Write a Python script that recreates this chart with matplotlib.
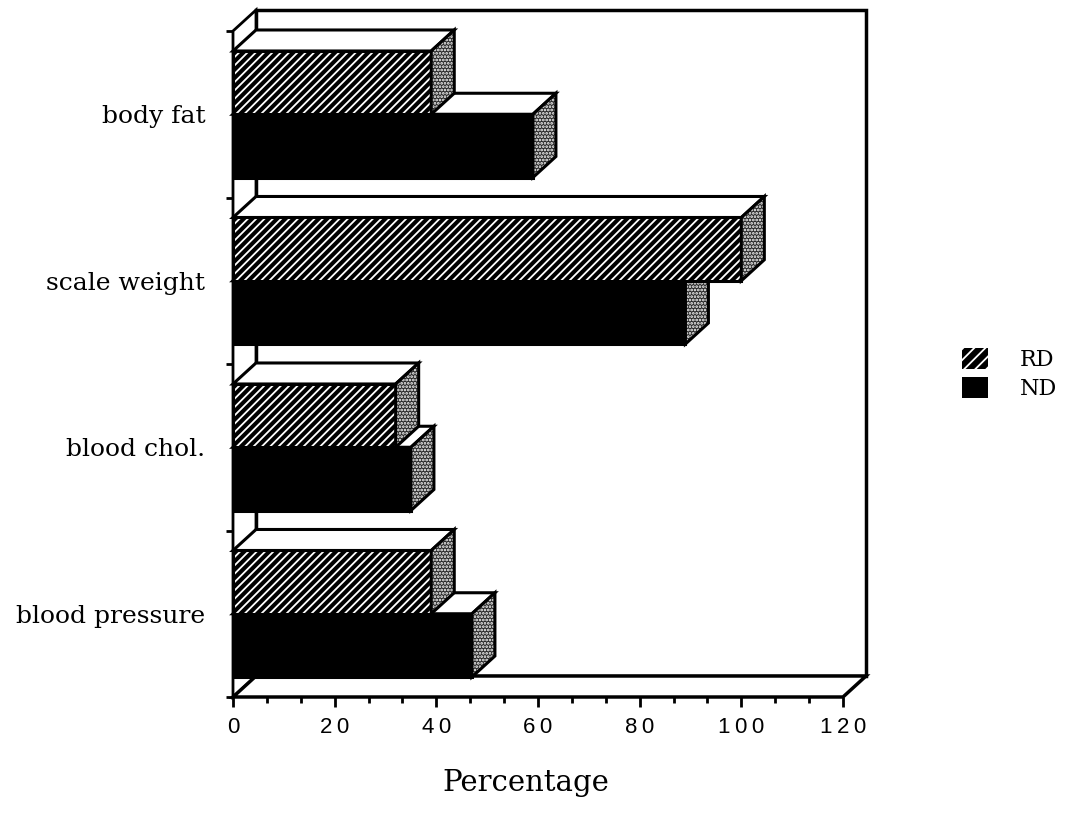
import numpy as np
import matplotlib.pyplot as plt
from matplotlib.patches import Polygon, Patch
from matplotlib.ticker import AutoMinorLocator

plt.rcParams['hatch.linewidth'] = 1.3

categories = ['body fat', 'scale weight', 'blood chol.', 'blood pressure']
rd_values = [39, 100, 32, 39]
nd_values = [59, 89, 35, 47]
x_ticks = [0, 20, 40, 60, 80, 100, 120]
series_labels = ['RD', 'ND']

SERIF = 'DejaVu Serif'
DEPTH = np.array([23.0, 21.0])   # back-plane offset in pixels (right, up)
BAR_H = 0.38
EDGE = 2.2

fig = plt.figure(figsize=(10.68, 8.24), dpi=100)
ax = fig.add_axes([233 / 1068, 127 / 824, 610 / 1068, 666 / 824])
n = len(categories)
ax.set_xlim(0, 120)
ax.set_ylim(n - 0.5, -0.5)
for s in ax.spines.values():
    s.set_visible(False)
ax.patch.set_alpha(0)


def shift(points):
    """Push data-space points back onto the rear plane."""
    disp = ax.transData.transform(np.asarray(points, dtype=float)) + DEPTH
    return ax.transData.inverted().transform(disp)


def face(points, z, **kw):
    ax.add_patch(Polygon(points, closed=True, zorder=z, clip_on=False,
                         joinstyle='miter', **kw))


# walls and floor
y0, y1 = -0.5, n - 0.5
front_back = [(0, y0), (120, y0), (120, y1), (0, y1)]
face(shift(front_back), 1, facecolor='white', edgecolor='black', lw=2.5)
left = [(0, y0), (0, y1)]
face(np.vstack([left, shift(left[::-1])]), 1.5, facecolor='white',
     edgecolor='black', lw=2.0)
floor = [(0, y1), (120, y1)]
face(np.vstack([floor, shift(floor[::-1])]), 1.5, facecolor='white',
     edgecolor='black', lw=2.5)


def draw_box(ypos, value, z, hatched):
    top_y, bot_y = ypos - BAR_H / 2, ypos + BAR_H / 2
    if hatched:
        ax.barh(ypos, value, height=BAR_H, color='black', edgecolor='white',
                hatch='////', lw=0, zorder=z)
    else:
        ax.barh(ypos, value, height=BAR_H, color='black', lw=0, zorder=z)
    ax.barh(ypos, value, height=BAR_H, fill=False, edgecolor='black',
            lw=EDGE, zorder=z)
    top_edge = [(0, top_y), (value, top_y)]
    face(np.vstack([top_edge, shift(top_edge[::-1])]), z,
         facecolor='white', edgecolor='black', lw=EDGE)
    side_edge = [(value, bot_y), (value, top_y)]
    face(np.vstack([side_edge, shift(side_edge[::-1])]), z,
         facecolor='#2a2a2a', edgecolor='white', hatch='.....', lw=0)
    face(np.vstack([side_edge, shift(side_edge[::-1])]), z,
         fill=False, edgecolor='black', lw=EDGE)


ypos = np.arange(n)
for i in range(n):
    draw_box(ypos[i] + BAR_H / 2, nd_values[i], 3, False)
    draw_box(ypos[i] - BAR_H / 2, rd_values[i], 4, True)

# x axis ticks along the front edge of the floor
ax.set_xticks(x_ticks)
ax.set_xticklabels(['\u2009'.join(str(t)) for t in x_ticks],
                   family=['Liberation Sans', 'DejaVu Sans'], fontsize=16)
ax.xaxis.set_minor_locator(AutoMinorLocator(3))
ax.tick_params(axis='x', which='major', length=7.5, width=2, pad=7)
ax.tick_params(axis='x', which='minor', length=4, width=2)

# y axis: band boundaries as ticks, names centred in each band
ax.set_yticks(np.arange(-0.5, n, 1.0))
ax.set_yticklabels([])
ax.set_yticks(ypos, minor=True)
ax.set_yticklabels(categories, minor=True, family=SERIF, fontsize=18)
ax.tick_params(axis='y', which='major', length=5, width=2)
ax.tick_params(axis='y', which='minor', length=0, pad=20)

fig.text(526 / 1068, 1 - 783 / 824, 'Percentage', family=SERIF, fontsize=21,
         ha='center', va='center')

handles = [Patch(facecolor='black', edgecolor='white', hatch='///', lw=0),
           Patch(facecolor='black', edgecolor='black', lw=0)]
fig.legend(handles, series_labels, loc='center left',
           bbox_to_anchor=(962 / 1068, 1 - 374 / 824), frameon=False,
           prop={'family': SERIF, 'size': 16}, handlelength=1.15,
           handleheight=1.1, handletextpad=1.45, labelspacing=0.25,
           borderpad=0, borderaxespad=0)

fig.savefig('out.png', dpi=100)
